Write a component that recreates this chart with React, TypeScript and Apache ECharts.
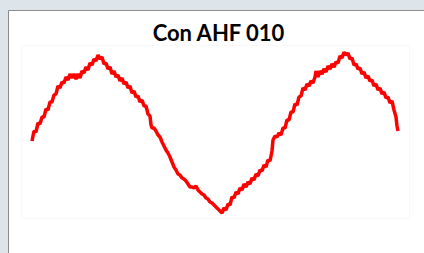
import React, { useEffect, useRef } from "react";
import * as echarts from "echarts";

const TITLE = "Con AHF 010";

// sample index (x) and signal amplitude (y)
const sampleIndex = [
  0, 2, 4, 6, 8, 10, 12, 14, 16, 18, 20, 22, 24, 26, 28, 30, 32, 34, 36, 38,
  40, 42, 44, 46, 48, 50, 52, 54, 56, 58, 60, 62, 64, 66, 68, 70, 72, 74, 76, 78,
  80, 82, 84, 86, 88, 90, 92, 94, 96, 98, 100, 102, 104, 106, 108, 110, 112, 114, 116, 118,
  119, 120, 122, 124, 126, 128, 130, 132, 134, 136, 138, 140, 142, 144, 146, 148, 150, 152, 154, 156,
  158, 160, 162, 164, 166, 168, 170, 172, 174, 176, 178, 180, 182, 184, 186, 188, 190, 192, 194, 196,
  198, 200, 202, 204, 206, 208, 210, 212, 214, 216, 218, 220, 222, 224, 226, 228, 230, 232, 234, 236,
  238, 240, 241, 243, 245, 247, 249, 251, 253, 255, 257, 259, 261, 263, 265, 267, 269, 271, 273, 275,
  277, 279, 281, 283, 284, 286, 288, 290, 292, 294, 296, 298, 300, 302, 304, 306, 308, 310, 312, 314,
  316, 318, 320, 322, 324, 326, 328, 330, 332, 334, 336, 338, 340, 342, 344, 346, 348, 350, 352, 354,
  356, 358, 360, 362, 364, 365, 366,
];

const signal = [
  72, 82, 81, 90, 89, 96, 96, 104, 103, 111, 111, 118, 119, 127, 125, 131, 130, 136, 133, 139,
  135, 139, 134, 139, 135, 142, 140, 146, 143, 150, 148, 154, 152, 158, 154, 156, 149, 150, 144, 146,
  139, 142, 136, 138, 132, 135, 129, 131, 125, 127, 120, 122, 116, 117, 111, 113, 107, 107, 99, 97,
  88, 85, 85, 82, 78, 76, 71, 67, 63, 60, 56, 51, 46, 43, 39, 38, 35, 34, 32, 29,
  26, 26, 25, 27, 23, 21, 19, 18, 15, 14, 11, 10, 8, 6, 4, 2, 0, 5, 3, 9,
  8, 16, 15, 21, 19, 25, 23, 29, 26, 31, 29, 35, 33, 39, 37, 43, 42, 48, 46, 53,
  52, 62, 73, 77, 76, 80, 78, 85, 85, 93, 93, 101, 101, 109, 108, 116, 117, 125, 123, 129,
  127, 132, 130, 136, 142, 136, 142, 139, 144, 141, 147, 144, 149, 146, 151, 150, 157, 155, 161, 158,
  160, 154, 155, 148, 149, 144, 145, 139, 141, 135, 137, 132, 133, 127, 129, 123, 125, 119, 121, 115,
  116, 110, 112, 103, 96, 87, 82,
];

const points = sampleIndex.map((x, i) => [x, signal[i]]);

export default function App() {
  const ref = useRef<HTMLDivElement>(null);
  useEffect(() => {
    if (!ref.current) return;
    const chart = echarts.init(ref.current, null, { renderer: "svg" });
    chart.setOption({
      animation: false,
      backgroundColor: "#dde4ea",
      graphic: [
        {
          type: "rect",
          z: -10,
          shape: { x: 8.5, y: 10.5, width: 430, height: 260 },
          style: { fill: "#ffffff", stroke: "#8c8c8c", lineWidth: 1 },
        },
        {
          type: "rect",
          z: -9,
          shape: { x: 21.5, y: 45.5, width: 388, height: 173 },
          style: { fill: "none", stroke: "#f8f8f8", lineWidth: 1 },
        },
        {
          type: "text",
          x: 218.5,
          y: 32,
          z: 10,
          style: {
            text: TITLE,
            fill: "#000",
            fontFamily: "Lato",
            fontWeight: "bold",
            fontSize: 22,
            align: "center",
            verticalAlign: "middle",
          },
        },
      ],
      grid: { left: 32, right: 26, top: 53, bottom: 40, containLabel: false },
      xAxis: {
        type: "value",
        min: 0,
        max: 366,
        show: false,
      },
      yAxis: {
        type: "value",
        min: 0,
        max: 160,
        show: false,
      },
      series: [
        {
          type: "line",
          data: points,
          showSymbol: false,
          lineStyle: { color: "#ff0000", width: 3.5 },
        },
      ],
    });
    return () => chart.dispose();
  }, []);
  return (
    <div
      ref={ref}
      style={{ position: "fixed", left: 0, top: 0, width: 424, height: 253 }}
    />
  );
}
